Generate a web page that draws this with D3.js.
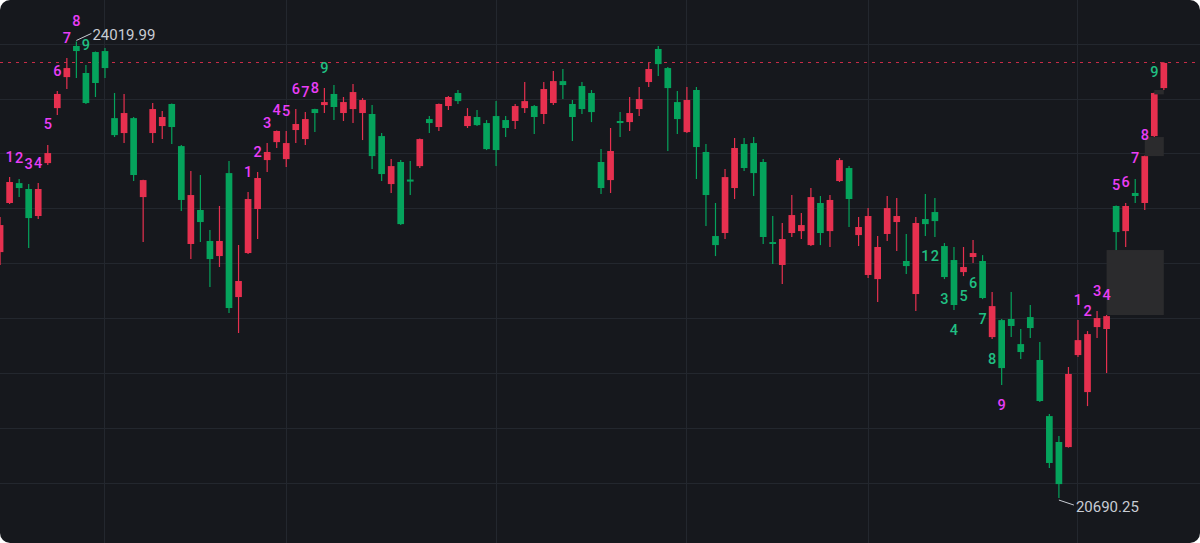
<!DOCTYPE html>
<html><head><meta charset="utf-8">
<script src="https://cdn.jsdelivr.net/npm/d3@7"></script>
<style>
html,body{margin:0;padding:0;background:#ffffff;}
svg{display:block;}
</style></head><body>
<svg id="chart" width="1200" height="543"></svg>
<script>
// ---- data ----
const opens = [22484,22842,22987,22944,22747,23133,23534,23760,23987,23790,23943,23950,23461,23352,23461,22885,23352,23403,23564,23257,22543,22791,22565,22455,23060,22156,22477,22798,23155,23286,23162,23374,23308,23527,23556,23637,23498,23527,23498,23491,23330,22980,23141,23013,23111,23454,23396,23549,23644,23403,23469,23425,23476,23447,23440,23534,23549,23491,23571,23731,23564,23695,23644,23141,23009,23440,23432,23527,23724,23965,23826,23578,23359,23666,23214,22601,22623,22951,23272,23279,23141,22557,22390,22623,22637,22535,22842,22637,23002,23097,22608,22317,22287,22616,22703,22419,22178,22725,22776,22528,22426,22338,22448,22419,21864,21988,21996,21813,22010,21697,21288,21099,21062,21733,21463,21937,21923,22820,22637,22915,22842,23330,23680];
const highs = [22740,23031,23017,22980,22987,23265,23658,23899,24019.99,23848,23946,23972,23644,23637,23469,23012,23571,23512,23567,23265,23075,23046,22645,22820,23148,22535,22922,23068,23279,23370,23367,23527,23505,23530,23680,23702,23615,23709,23607,23556,23352,23162,23155,23148,23312,23476,23567,23622,23666,23534,23520,23447,23585,23476,23564,23724,23556,23724,23804,23819,23593,23724,23666,23235,23389,23505,23615,23688,23863,23987,23833,23658,23688,23688,23272,22842,23090,23316,23316,23323,23162,22747,22696,22900,22769,22951,22893,22900,23170,23111,22740,22805,22601,22893,22878,22616,22740,22907,22878,22550,22521,22521,22572,22462,22193,21996,22193,21923,22098,21828,21303,21142,21646,21988,21908,22054,22025,22824,22842,23017,23188,23648,23870];
const lows = [22390,22834,22885,22513,22725,23119,23483,23673,23753,23564,23615,23753,23323,23279,23002,22557,23279,23308,23272,22783,22433,22557,22229,22375,22039,21894,22470,22579,23068,23243,23104,23279,23265,23359,23498,23447,23440,23425,23301,23090,23002,22915,22681,22900,23097,23352,23367,23520,23564,23389,23403,23228,23111,23323,23381,23498,23345,23418,23556,23600,23294,23491,23432,22907,22915,23323,23367,23476,23688,23768,23221,23345,23352,23017,22674,22455,22579,22871,23075,22893,22543,22397,22251,22594,22579,22528,22535,22521,22995,22667,22528,22295,22120,22565,22492,22324,22054,22601,22594,22287,22061,22309,22404,22141,21850,21514,21864,21704,21857,21390,20909,20690.25,21058,21718,21361,21857,21602,22484,22521,22842,22791,23323,23666];
const closes = [22681,22995,22951,22732,22944,23206,23637,23826,23950,23571,23717,23826,23337,23498,23046,23009,23527,23469,23396,22864,22900,22703,22433,22565,22076,22273,22871,23024,23214,23367,23279,23418,23454,23498,23578,23542,23578,23651,23593,23184,23053,23111,22688,22998,23308,23425,23564,23615,23585,23476,23410,23235,23228,23389,23549,23585,23469,23673,23731,23702,23469,23527,23505,22951,23221,23425,23498,23600,23819,23855,23680,23454,23593,23250,22900,22535,23031,23243,23097,23060,22594,22543,22579,22754,22681,22885,22623,22864,23155,22871,22667,22747,22521,22805,22747,22382,22696,22688,22710,22302,22098,22375,22477,22149,22090,21638,21945,21755,21930,21398,20946,20792,21595,21842,21886,22003,22017,22630,22820,22893,23184,23644,23863];

// month boundaries (candle index where vertical grid lines fall)
const monthStarts = [11,30,52,72,91,113];
// horizontal grid prices
const gridPrices = [20800,21200,21600,22000,22400,22800,23200,23600,24000];

// TD sequential counts: candle index, count, side
const tdIndex = [1,2,3,4,5,6,7,8,9, 26,27,28,29,30,31,32,33,34, 97,98,99,100,101,102,103,104,105, 113,114,115,116,117,118,119,120,121];
const tdCount = [1,2,3,4,5,6,7,8,9, 1,2,3,4,5,6,7,8,9, 1,2,3,4,5,6,7,8,9, 1,2,3,4,5,6,7,8,9];
const tdSide  = ["up","up","up","up","up","up","up","up","up","up","up","up","up","up","up","up","up","up","dn","dn","dn","dn","dn","dn","dn","dn","dn","up","up","up","up","up","up","up","up","up"];

// grey overlay boxes: [fromIndex, toIndex, topPrice, bottomPrice]
const boxFrom = [116,120,121];
const boxTo   = [122,122,122];
const boxTop  = [22499,23323,23666];
const boxBot  = [22025,23184,23634];

// ---- drawing ----
const W = 1200, H = 543;
const n = opens.length;
const C = {bg:"#16181d", grid:"#23272e", up:"#e6304f", down:"#05a35c",
           mag:"#e93ef5", grn:"#20bf82", txt:"#c8ccd4", box:"#2b2b2d"};

const svg = d3.select("#chart");
const defs = svg.append("defs");
defs.append("clipPath").attr("id","clip").append("rect")
  .attr("width",W).attr("height",H).attr("rx",10).attr("ry",10);

const g = svg.append("g").attr("clip-path","url(#clip)");
g.append("rect").attr("width",W).attr("height",H).attr("fill",C.bg);

const x = d3.scaleBand().domain(d3.range(n)).range([-4.70, 1168.6]).paddingInner(0.3).paddingOuter(0.15);
const bw = x.bandwidth();
const cx = i => x(i) + bw/2;
const y = d3.scaleLinear().domain([20800, 24000]).range([483.0, 44.2]);
const crisp = v => Math.round(v) + 0.5;

// grid
g.append("g").selectAll("line.h").data(gridPrices).join("line")
  .attr("x1",0).attr("x2",W)
  .attr("y1",d=>crisp(y(d)-0.5)).attr("y2",d=>crisp(y(d)-0.5))
  .attr("stroke",C.grid).attr("stroke-width",1);
g.append("g").selectAll("line.v").data(monthStarts).join("line")
  .attr("y1",0).attr("y2",H)
  .attr("x1",d=>crisp(cx(d)-0.5)).attr("x2",d=>crisp(cx(d)-0.5))
  .attr("stroke",C.grid).attr("stroke-width",1);

// last price dashed line
g.append("line").attr("x1",0).attr("x2",W)
  .attr("y1",crisp(y(closes[n-1])-0.5)).attr("y2",crisp(y(closes[n-1])-0.5))
  .attr("stroke",C.up).attr("stroke-opacity",0.85).attr("stroke-width",1)
  .attr("stroke-dasharray","3,5");

// candles
const idx = d3.range(n);
const col = i => closes[i] >= opens[i] ? C.up : C.down;
const cg = g.append("g");
cg.selectAll("line.wick").data(idx).join("line")
  .attr("x1",i=>cx(i)).attr("x2",i=>cx(i))
  .attr("y1",i=>y(highs[i])).attr("y2",i=>y(lows[i]))
  .attr("stroke",col).attr("stroke-width",1.2);
cg.selectAll("rect.body").data(idx).join("rect")
  .attr("x",i=>x(i)).attr("width",bw)
  .attr("y",i=>y(Math.max(opens[i],closes[i])))
  .attr("height",i=>Math.max(1.5, Math.abs(y(opens[i])-y(closes[i]))))
  .attr("fill",col);

// grey overlay boxes
g.append("g").selectAll("rect").data(boxFrom.map((d,k)=>k)).join("rect")
  .attr("x",k=>cx(boxFrom[k])).attr("width",k=>cx(boxTo[k])-cx(boxFrom[k]))
  .attr("y",k=>y(boxTop[k])).attr("height",k=>y(boxBot[k])-y(boxTop[k]))
  .attr("fill",C.box);

// TD labels
g.append("g").selectAll("text").data(tdIndex.map((d,k)=>k)).join("text")
  .attr("x",k=>cx(tdIndex[k]))
  .attr("y",k=> tdSide[k]==="up" ? y(highs[tdIndex[k]]) - 20 : y(lows[tdIndex[k]]) + 20)
  .attr("text-anchor","middle").attr("dominant-baseline","central")
  .attr("font-family","Roboto, 'Noto Sans', sans-serif").attr("font-size",14.5).attr("font-weight",500)
  .attr("fill",k=> ((tdSide[k]==="up") !== (tdCount[k]===9)) ? C.mag : C.grn)
  .text(k=>tdCount[k]);

// high / low annotations
const hiI = d3.maxIndex(highs), loI = d3.minIndex(lows);
const fmt = d3.format(".2f");
const ann = g.append("g").attr("font-family","Roboto, 'Noto Sans', sans-serif").attr("font-size",15).attr("fill",C.txt);
const hx = cx(hiI), hy = y(highs[hiI]);
ann.append("line").attr("x1",hx).attr("y1",hy-1).attr("x2",hx+15).attr("y2",hy-8)
  .attr("stroke",C.txt).attr("stroke-width",1);
ann.append("text").attr("x",hx+16).attr("y",hy-6.5).attr("dominant-baseline","central").text(fmt(highs[hiI]));
const lx = cx(loI), ly = y(lows[loI]);
ann.append("line").attr("x1",lx).attr("y1",ly+2).attr("x2",lx+15).attr("y2",ly+7)
  .attr("stroke",C.txt).attr("stroke-width",1);
ann.append("text").attr("x",lx+17).attr("y",ly+9).attr("dominant-baseline","central").text(fmt(lows[loI]));
</script>
</body></html>
